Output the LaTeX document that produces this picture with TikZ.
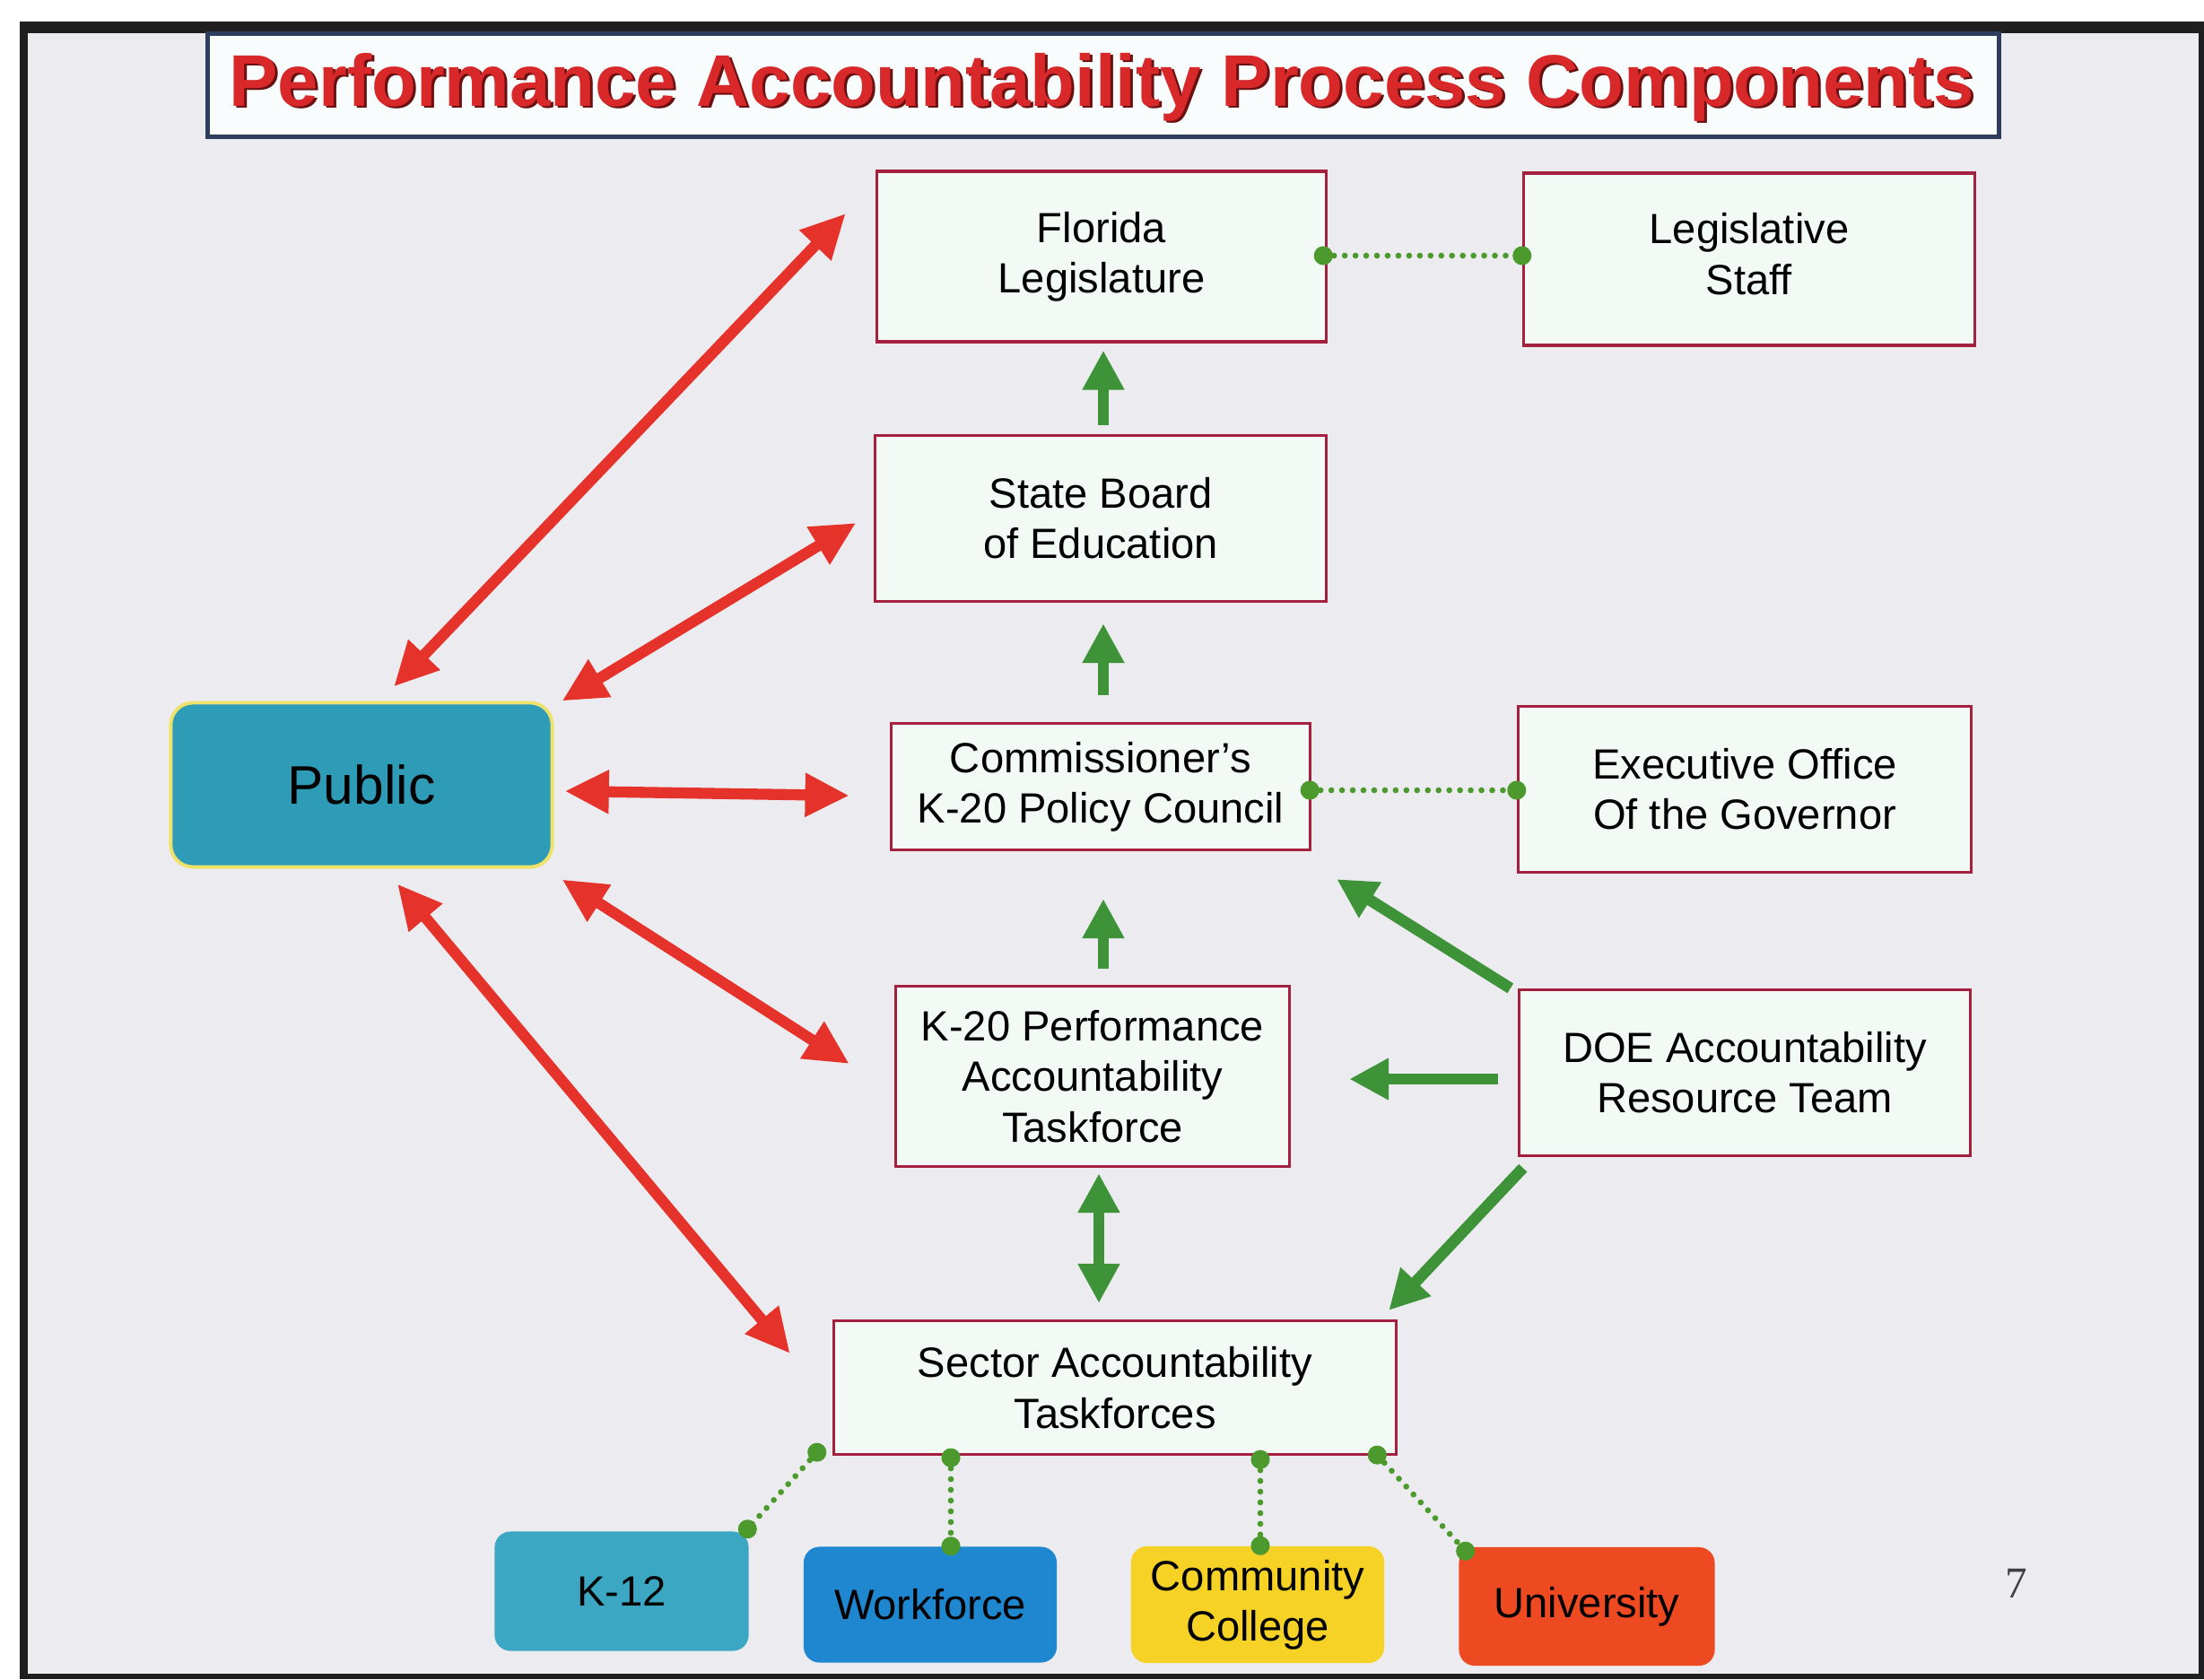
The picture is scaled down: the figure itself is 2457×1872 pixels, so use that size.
\documentclass[tikz,border=0pt]{standalone}
\usepackage{fontspec}
\setmainfont{Liberation Sans}
\newfontfamily\numfont{Liberation Serif}
\usetikzlibrary{arrows.meta,calc}

\definecolor{bgc}{HTML}{ECECF0}
\definecolor{boxfill}{HTML}{F3FAF6}
\definecolor{boxline}{HTML}{A3203E}
\definecolor{redarr}{HTML}{E5322A}
\definecolor{grnarr}{HTML}{3E9338}
\definecolor{dotgrn}{HTML}{4C9A2E}
\definecolor{publicfill}{HTML}{2F9CB7}
\definecolor{publicline}{HTML}{EFE26A}
\definecolor{k12c}{HTML}{3CA7C2}
\definecolor{wfc}{HTML}{1E87D0}
\definecolor{colc}{HTML}{F6D226}
\definecolor{unic}{HTML}{EE4A22}
\definecolor{titlered}{HTML}{D8282A}
\definecolor{titleshadow}{HTML}{6A1010}
\definecolor{titleline}{HTML}{2E3C5E}
\definecolor{titlefill}{HTML}{F8FCFC}

\begin{document}
\begin{tikzpicture}[x=0.01cm,y=-0.01cm,
  every node/.style={font=\fontsize{13.4}{16}\selectfont},
  box/.style={draw=boxline,line width=0.9pt,fill=boxfill,inner sep=0pt,align=center},
  sectorbox/.style={rounded corners=5pt,inner sep=0pt,align=center},
  redarrow/.style={draw=redarr,line width=3.5pt,
    {Triangle[length=14pt,width=13pt]}-{Triangle[length=14pt,width=13pt]}},
  grnarrow/.style={draw=grnarr,line width=3.6pt,-{Triangle[length=12.5pt,width=12.5pt]}},
  grndouble/.style={draw=grnarr,line width=3.6pt,
    {Triangle[length=12.5pt,width=12.5pt]}-{Triangle[length=12.5pt,width=12.5pt]}},
  dotlink/.style={draw=dotgrn,line width=1.9pt,line cap=round,dash pattern=on 0pt off 3.4pt},
  enddot/.style={fill=dotgrn}
]
\useasboundingbox (0,0) rectangle (2457,1872);
% slide frame and background
\fill[white] (0,0) rectangle (2457,1872);
\fill[black!88] (22,24) rectangle (2457,1872);
\fill[bgc] (31,37) rectangle (2451,1866);

% title
\node[draw=titleline,line width=1.2pt,fill=titlefill,minimum width=19.96cm,minimum height=1.15cm,inner sep=0pt] (titlebox) at (1230,95) {};
\node[anchor=base,text=titleshadow,font=\fontsize{23.2}{28}\selectfont\bfseries] (titleshade) at (1231,120) {Performance Accountability Process Components};
\node[anchor=base,text=titlered,font=\fontsize{23.2}{28}\selectfont\bfseries] (titletext) at (1228,118) {Performance Accountability Process Components};

% boxes
\node[box,minimum width=5.01cm,minimum height=1.90cm] (fl) at (1228,286) {Florida\\Legislature};
\node[box,minimum width=5.03cm,minimum height=1.92cm,text depth=0.12cm] (ls) at (1950,289) {Legislative\\Staff};
\node[box,minimum width=5.02cm,minimum height=1.85cm] (sbe) at (1227,578) {State Board\\of Education};
\node[box,minimum width=4.67cm,minimum height=1.41cm] (cc) at (1227,877) {Commissioner's\\K-20 Policy Council};
\node[box,minimum width=5.05cm,minimum height=1.85cm] (eog) at (1945,880) {Executive Office\\Of the Governor};
\node[box,minimum width=4.39cm,minimum height=2.01cm] (k20) at (1218,1200) {K-20 Performance\\Accountability\\Taskforce};
\node[box,minimum width=5.03cm,minimum height=1.85cm] (doe) at (1945,1196) {DOE Accountability\\Resource Team};
\node[box,minimum width=6.27cm,minimum height=1.49cm] (sat) at (1243,1547) {Sector Accountability\\Taskforces};

\node[draw=publicline,line width=1.1pt,fill=publicfill,rounded corners=7pt,
      minimum width=4.25cm,minimum height=1.83cm,inner sep=0pt,
      font=\fontsize{17.2}{20}\selectfont] (pub) at (403,875) {Public};

\node[sectorbox,fill=k12c,minimum width=2.83cm,minimum height=1.33cm] (k12) at (693,1774) {K-12};
\node[sectorbox,fill=wfc,minimum width=2.82cm,minimum height=1.29cm] (wf) at (1037,1789) {Workforce};
\node[sectorbox,fill=colc,minimum width=2.82cm,minimum height=1.30cm] (col) at (1402,1789) {Community\\College};
\node[sectorbox,fill=unic,minimum width=2.85cm,minimum height=1.32cm] (uni) at (1769,1791) {University};

\node[text=black!75,font=\numfont\fontsize{14}{16}\selectfont] (pagenum) at (2248,1765) {7};

% red double arrows between Public and the boxes
\draw[redarrow] ($(pub.north)+(36,-16)$) -- ($(fl.west)+(-33,-48)$);
\draw[redarrow] ($(pub.north east)+(9,0)$) -- ($(sbe.west)+(-20,5)$);
\draw[redarrow] ($(pub.east)+(12,7)$) -- ($(cc.west)+(-45,10)$);
\draw[redarrow] ($(pub.south east)+(9,12)$) -- ($(k20.west)+(-50,-14)$);
\draw[redarrow] ($(pub.south)+(40,17)$) -- ($(sat.west)+(-47,-38)$);

% green arrows
\draw[grnarrow] ($(sbe.north)+(3,-10)$) -- ($(fl.south)+(2,8)$);
\draw[grnarrow] ($(cc.north)+(3,-30)$) -- ($(sbe.south)+(3,23)$);
\draw[grnarrow] ($(k20.north)+(12,-18)$) -- ($(cc.south)+(3,53)$);
\draw[grndouble] ($(k20.south)+(7,6)$) -- ($(sat.north)+(-18,-18)$);
\draw[grnarrow] ($(doe.north west)+(-8,0)$) -- ($(cc.south east)+(28,31)$);
\draw[grnarrow] ($(doe.west)+(-22,7)$) -- ($(k20.east)+(65,3)$);
\draw[grnarrow] ($(doe.south west)+(6,12)$) -- ($(sat.north east)+(-10,-10)$);

% green dotted links
\coordinate (d1a) at ($(fl.east)+(-5,-1)$);
\coordinate (d1b) at (d1a -| ls.west);
\coordinate (d2a) at ($(cc.east)+(-2,4)$);
\coordinate (d2b) at (d2a -| eog.west);
\coordinate (d3a) at ($(sat.south west)+(-17,-4)$);
\coordinate (d3b) at ($(k12.north east)+(-2,-2)$);
\coordinate (d4a) at ($(sat.south)+(-183,2)$);
\coordinate (d4b) at ($(wf.north)+(23,0)$);
\coordinate (d5a) at ($(sat.south)+(162,4)$);
\coordinate (d5b) at ($(col.north)+(3,0)$);
\coordinate (d6a) at ($(sat.south east)+(-23,-1)$);
\coordinate (d6b) at ($(uni.north west)+(8,5)$);
\foreach \a/\b in {d1a/d1b,d2a/d2b,d3a/d3b,d4a/d4b,d5a/d5b,d6a/d6b}{
  \draw[dotlink] (\a) -- (\b);
  \fill[enddot] (\a) circle (3pt);
  \fill[enddot] (\b) circle (3pt);
}
\end{tikzpicture}
\end{document}
